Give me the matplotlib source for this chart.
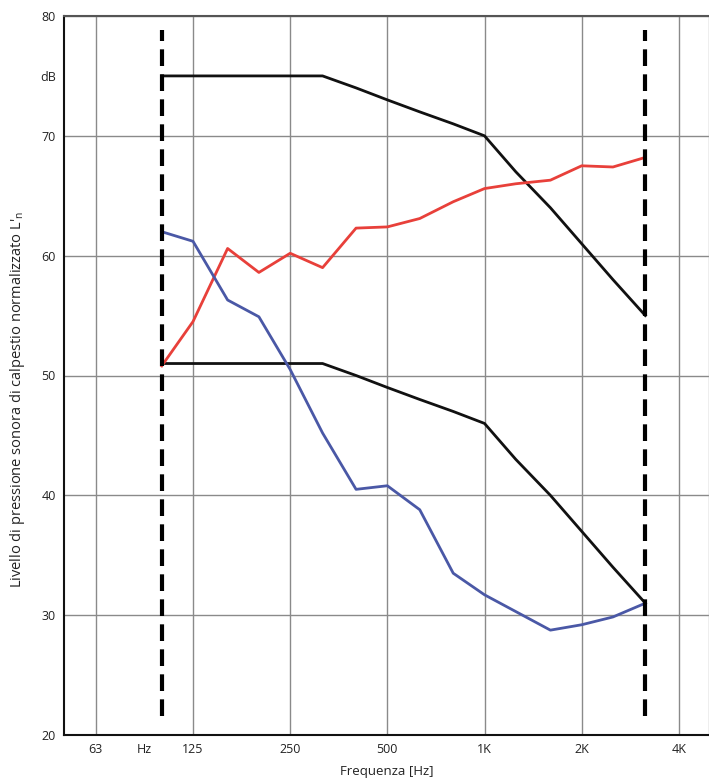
import matplotlib
matplotlib.use('Agg')
import matplotlib.pyplot as plt
from matplotlib.ticker import FixedLocator, FixedFormatter

plt.rcParams['font.family'] = ['Open Sans', 'DejaVu Sans']

# bande di terzo d'ottava
freq = [100, 125, 160, 200, 250, 315, 400, 500, 630, 800, 1000, 1250, 1600, 2000, 2500, 3150]

# curva misurata (rossa) e curva misurata (blu)
rosso = [50.8, 54.5, 60.6, 58.6, 60.2, 59.0, 62.3, 62.4, 63.1, 64.5, 65.6, 66.0, 66.3, 67.5, 67.4, 68.2]
blu = [62.0, 61.2, 56.3, 54.9, 50.5, 45.2, 40.5, 40.8, 38.8, 33.5, 31.7, 30.3, 28.75, 29.2, 29.85, 31.0]

# curve di riferimento (nere)
rif_alto = [75, 75, 75, 75, 75, 75, 74, 73, 72, 71, 70, 67, 64, 61, 58, 55]
rif_basso = [51, 51, 51, 51, 51, 51, 50, 49, 48, 47, 46, 43, 40, 37, 34, 31]

# griglia e etichette asse x
grid_freq = [62.5, 125, 250, 500, 1000, 2000, 4000]
grid_lab = ['63', '125', '250', '500', '1K', '2K', '4K']
y_ticks = [20, 30, 40, 50, 60, 70, 80]

fig = plt.figure(figsize=(7.09, 7.82), dpi=100)
ax = fig.add_axes([64/709, 47/782, 645/709, 719/782])

ax.set_xscale('log')
ax.set_xlim(49.8, 4960)
ax.set_ylim(20, 80)

ax.xaxis.set_major_locator(FixedLocator(grid_freq))
ax.xaxis.set_major_formatter(FixedFormatter(grid_lab))
ax.xaxis.set_minor_locator(FixedLocator([88.4]))
ax.xaxis.set_minor_formatter(FixedFormatter(['Hz']))
ax.yaxis.set_major_locator(FixedLocator(y_ticks))
ax.yaxis.set_minor_locator(FixedLocator([75]))
ax.yaxis.set_minor_formatter(FixedFormatter(['dB']))

ax.tick_params(which='both', length=0, labelsize=9, colors='#222222', pad=6)
ax.grid(True, which='major', color='#8a8a8a', linewidth=1.0)
ax.set_axisbelow(True)

for s in ['left', 'bottom']:
    ax.spines[s].set_color('#111111')
    ax.spines[s].set_linewidth(1.5)
ax.spines['top'].set_color('#555555')
ax.spines['top'].set_linewidth(1.5)
ax.spines['right'].set_color('#aaaaaa')
ax.spines['right'].set_linewidth(1.0)

# linee tratteggiate ai limiti 100 Hz e 3150 Hz
for f in [freq[0], freq[-1]]:
    ax.plot([f, f], [21.6, 78.8], color='black', linewidth=3, linestyle=(0, (4, 2)), zorder=4)

ax.plot(freq, rif_alto, color='#111111', linewidth=2, zorder=3)
ax.plot(freq, rif_basso, color='#111111', linewidth=2, zorder=3)
ax.plot(freq, rosso, color='#e8403a', linewidth=2, zorder=3)
ax.plot(freq, blu, color='#4a58a6', linewidth=2, zorder=3)

ax.set_xlabel('Frequenza [Hz]', fontsize=9.5, color='#222222', labelpad=6)
ax.set_ylabel("Livello di pressione sonora di calpestio normalizzato L'$_\\mathregular{n}$",
              fontsize=10.5, color='#222222')
ax.yaxis.set_label_coords(-0.058, 0.466)

fig.savefig('out.png', dpi=100)
